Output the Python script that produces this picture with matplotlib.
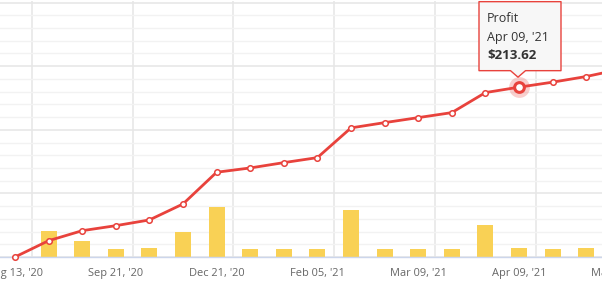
import numpy as np
import matplotlib
matplotlib.use('Agg')
import matplotlib.pyplot as plt
import matplotlib.transforms as mtransforms
from matplotlib.patches import Polygon
from matplotlib.ticker import FixedLocator, MultipleLocator

# cumulative profit (line) and per-period profit (bars), one value per category
profit = [0, 20.5, 33.1, 39.4, 46.6, 66.7, 106.6, 112.0, 118.7, 125.0,
          162.4, 169.0, 175.3, 181.6, 206.8, 213.62, 219.9, 227.0, 236.0]
period = [0, 20.3, 12.3, 6.0, 6.8, 19.3, 38.8, 6.2, 6.2, 6.2,
          36.5, 6.2, 6.2, 6.2, 25.0, 7.0, 6.2, 7.0, 7.0]
tick_idx = [0, 3, 6, 9, 12, 15, 18]
tick_labels = ["Aug 13, '20", "Sep 21, '20", "Dec 21, '20", "Feb 05, '21",
               "Mar 09, '21", "Apr 09, '21", "May 09, '21"]
hover = 15
hover_title = "Profit"
hover_date = "Apr 09, '21"
hover_value = "$213.62"

RED = '#e8423c'
YELLOW = '#f9d155'
Y_MAX = 322      # profit axis
BAR_MAX = 200    # bar axis (hidden), mapped onto the same height

plt.rcParams['font.family'] = ['Open Sans', 'DejaVu Sans']

fig = plt.figure(figsize=(6.02, 2.83), dpi=100)
W, H = 602, 283
x_left = -0.446
x_right = 18.5
# axes wider than the figure so the last category is cut at the right edge
ax = fig.add_axes([0, 26 / H, 636.6 / W, 256 / H])

x = np.arange(len(profit))
bar_h = np.array(period) * Y_MAX / BAR_MAX
ax.bar(x, bar_h, width=0.48, color=YELLOW, zorder=2)

ax.plot(x, profit, color=RED, lw=2, marker='o', ms=4, mfc='white',
        mec=RED, mew=1.1, zorder=5, clip_on=False)
ax.set_xlim(x_left, x_right)
ax.set_ylim(0, Y_MAX)

# highlighted point
ax.plot([hover], [profit[hover]], 'o', ms=15, color=RED, alpha=0.25, mew=0,
        zorder=6, clip_on=False)
ax.plot([hover], [profit[hover]], 'o', ms=7, mfc='white', mec=RED, mew=2.2,
        zorder=7, clip_on=False)

ax.set_xticks(tick_idx)
ax.set_xticklabels(tick_labels)
ax.xaxis.set_minor_locator(FixedLocator([i + 0.5 for i in tick_idx]))
ax.yaxis.set_major_locator(MultipleLocator(80))
ax.yaxis.set_minor_locator(MultipleLocator(16))
ax.tick_params(axis='x', which='both', length=0, pad=8, labelsize=7.9,
               labelcolor='#666666')
ax.tick_params(axis='y', which='both', length=0, labelleft=False)
ax.grid(axis='x', which='minor', color='#e6e6e6', lw=1.1)
ax.grid(axis='y', which='major', color='#e6e6e6', lw=1.1)
ax.grid(axis='y', which='minor', color='#f2f2f2', lw=1)
ax.set_axisbelow(True)
for s in ['left', 'right', 'top']:
    ax.spines[s].set_visible(False)
ax.spines['bottom'].set_color('#ccd6eb')
ax.spines['bottom'].set_linewidth(1)
ax.spines['bottom'].set_zorder(3)

# tooltip, drawn in pixels relative to the hovered point
trans = fig.dpi_scale_trans + mtransforms.ScaledTranslation(
    hover, profit[hover], ax.transData)
px = [(-40, 16.5), (-8.5, 16.5), (-1, 10), (6.5, 16.5), (42, 16.5),
      (42, 85.5), (-40, 85.5)]
tip = Polygon([(a / 100, b / 100) for a, b in px], closed=True,
              facecolor='#f7f7f7', edgecolor=RED, lw=1, transform=trans,
              zorder=10, clip_on=False, joinstyle='round')
ax.add_patch(tip)
ax.text(-32 / 100, 69 / 100, hover_title, transform=trans, fontsize=9,
        color='#333333', va='center', ha='left', zorder=11)
ax.text(-32 / 100, 50 / 100, hover_date, transform=trans, fontsize=9,
        color='#333333', va='center', ha='left', zorder=11)
ax.text(-32 / 100, 32 / 100, hover_value, transform=trans, fontsize=9.6,
        color='#333333', va='center', ha='left', fontweight='bold', zorder=11)

fig.savefig('out.png', dpi=100)
